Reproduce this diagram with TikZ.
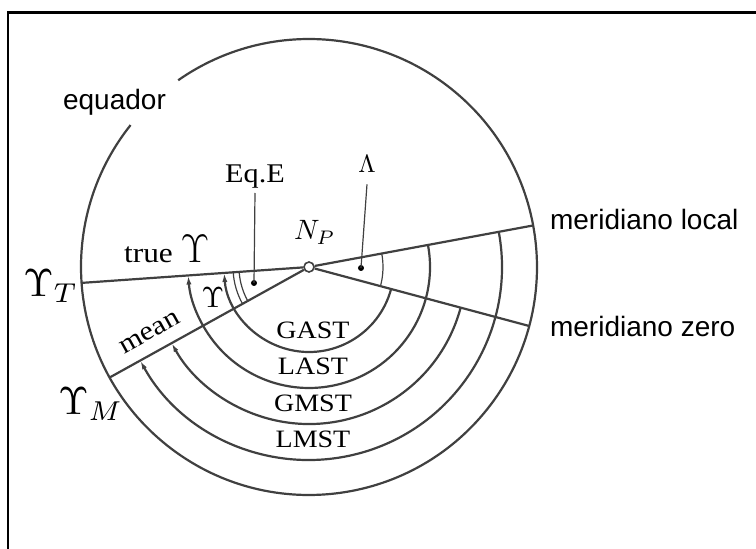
\RequirePackage{fix-cm}
\documentclass[tikz,border=0pt]{standalone}
\usepackage{fontspec}
\setmainfont{Liberation Serif}[FakeStretch=1.12]
\newfontfamily\sansfnt{Liberation Sans}
\usetikzlibrary{arrows.meta}

\begin{document}
\begin{tikzpicture}[x=1pt, y=1pt, line width=2.2pt, black!75,
    lab/.style={font=\fontsize{25}{28}\selectfont, inner sep=0pt, text=black},
    mlab/.style={font=\fontsize{10}{12}\selectfont, inner sep=0pt, text=black, scale=#1},
    sanslab/.style={font=\sansfnt\fontsize{28}{32}\selectfont, inner sep=0pt, text=black},
    thinarc/.style={line width=1.2pt},
    arctip/.style={-{Latex[length=9pt,width=5pt]}},
    pdot/.style={circle, fill=black, inner sep=0pt, minimum size=6pt}]
    \useasboundingbox (-309,-282) rectangle (447,267);
    \draw[black, line width=2.4pt] (-300.7,-290) -- (-300.7,254.3) -- (460,254.3);

    % equator, open where its label sits
    \draw (141.5:228) arc[start angle=141.5, end angle=485, radius=228];
    \node[sanslab, anchor=base west] (equador) at (-247,157) {equador};

    \node[circle, draw, fill=white, minimum size=10pt, inner sep=0pt, line width=1.6pt] (NP) at (0,0) {};
    \coordinate (vT) at (184:228);
    \coordinate (vM) at (209:228);
    \coordinate (loc) at (10.5:228);
    \coordinate (zero) at (-15:228);
    \foreach \c in {vT,vM,loc,zero}
        \draw (NP) -- (\c);

    % hour angles
    \foreach \r/\a/\b in {85/345/184, 121/370.5/184, 157/345/209, 193/370.5/209}
        \draw[arctip] (\a:\r) arc[start angle=\a, end angle=\b, radius=\r];
    \foreach \r/\t in {85/GAST, 121/LAST, 157/GMST, 193/LMST}
        \node[lab, anchor=base] (\t) at (4,{13-\r}) {\t};

    \draw[thinarc] (184:70) arc[start angle=184, end angle=209, radius=70];
    \draw[thinarc] (184:76) arc[start angle=184, end angle=209, radius=76];
    \draw[thinarc] (10.5:74) arc[start angle=10.5, end angle=-15, radius=74];

    \node[pdot] (eqdot) at (-55,-16) {};
    \node[pdot] (lamdot) at (52,-1) {};
    \node[lab, anchor=base, font=\fontsize{27}{30}\selectfont] (eqE) at (-54,84) {Eq.E};
    \node[mlab=2.5] (Lam) at (58,103) {$\Lambda$};
    \draw[thinarc] (eqdot.center) -- ([yshift=-10pt]eqE.base);
    \draw[thinarc] (lamdot.center) -- ([yshift=-9pt]Lam.south);

    \node[mlab=2.8, anchor=base west] (Np) at (-18,27) {$N_P$};
    \node[lab, anchor=base west, font=\fontsize{28}{30}\selectfont] (true) at (-186,4) {true \fontsize{40}{42}\selectfont$\Upsilon$};
    \node[lab, rotate=29, font=\fontsize{27}{30}\selectfont] (mean) at (-159,-66) {mean};
    \node[mlab=2.9] (gam) at (-96,-31) {$\Upsilon$};
    \node[mlab=3.9, anchor=base west] (gT) at (-290,-30) {$\Upsilon_T$};
    \node[mlab=3.9, anchor=base west] (gM) at (-255,-148) {$\Upsilon_M$};

    \node[sanslab, anchor=base west] (mloc) at (240,37) {meridiano local};
    \node[sanslab, anchor=base west] (mzero) at (240,-70) {meridiano zero};
\end{tikzpicture}
\end{document}
